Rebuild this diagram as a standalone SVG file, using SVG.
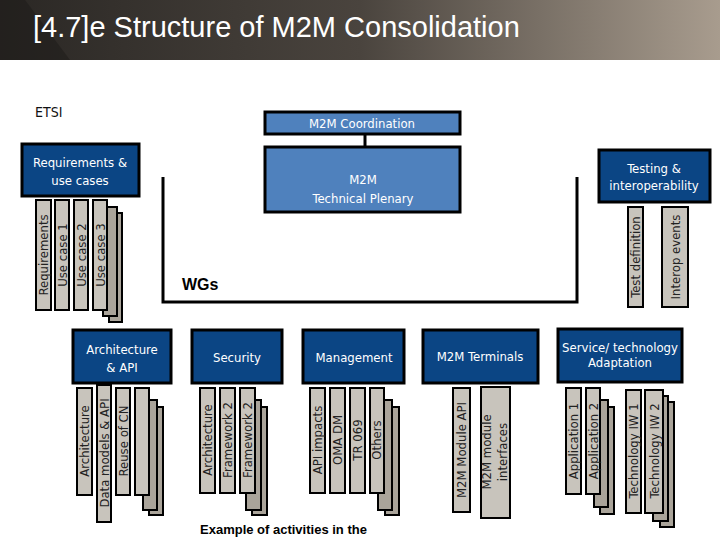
<svg xmlns="http://www.w3.org/2000/svg" width="720" height="540" viewBox="0 0 720 540">
<defs>
<linearGradient id="hdr" x1="0" y1="0" x2="1" y2="0">
<stop offset="0" stop-color="#2a2724"/><stop offset="0.5" stop-color="#4a443e"/><stop offset="1" stop-color="#a89c8e"/>
</linearGradient>
</defs>
<style>
.t{font-family:"DejaVu Sans Condensed","DejaVu Sans",sans-serif}
.dk{fill:#0b4584;stroke:#000;stroke-width:3}
.lt{fill:#4f81bd;stroke:#000;stroke-width:3}
.bar{fill:#c8c4bc;stroke:#000;stroke-width:2}
.sh{fill:#aaa49a;stroke:#000;stroke-width:2}
.w{fill:#fff;font-size:13px;text-anchor:middle}
.b{fill:#222;font-size:13px;text-anchor:middle}
.ln{stroke:#000;stroke-width:3;fill:none}
</style>
<rect width="720" height="540" fill="#fff"/>
<rect width="720" height="60" fill="url(#hdr)"/>
<polygon points="0,0 25,0 70,60 0,60" fill="#1c1a18" opacity="0.5"/>
<text x="33" y="37" font-family="Liberation Sans,Arial,sans-serif" font-size="29" fill="#fff">[4.7]e Structure of M2M Consolidation</text>
<text x="35" y="117" class="t" font-size="14" fill="#111">ETSI</text>

<g id="connectors">
<line class="ln" x1="365" y1="134" x2="365" y2="147"/>
<polyline class="ln" points="163,177 163,302 577,302 577,177"/>
</g>
<text x="182" y="290" font-family="Liberation Sans,Arial,sans-serif" font-size="16" font-weight="bold" fill="#000">WGs</text>

<g id="coord"><rect class="lt" x="265" y="112" width="195" height="22"/><text class="t w" x="362" y="128">M2M Coordination</text></g>
<g id="plenary"><rect class="lt" x="265" y="147" width="195" height="65"/><text class="t w" x="363" y="184" font-size="14">M2M</text><text class="t w" x="363" y="203" font-size="14">Technical Plenary</text></g>

<g id="req">
<rect class="dk" x="22" y="144" width="117" height="52"/>
<text class="t w" x="80" y="167">Requirements &amp;</text><text class="t w" x="80" y="185">use cases</text>
<rect class="sh" x="109" y="213" width="13" height="109"/><rect class="sh" x="103" y="207" width="14" height="109"/>
<rect class="bar" x="36" y="200" width="15" height="110"/><rect class="bar" x="55" y="200" width="14" height="110"/>
<rect class="bar" x="74" y="200" width="14" height="110"/><rect class="bar" x="93" y="200" width="14" height="110"/>
<text class="t b" transform="translate(48,255) rotate(-90)">Requirements</text>
<text class="t b" transform="translate(67,255) rotate(-90)">Use case 1</text>
<text class="t b" transform="translate(86,255) rotate(-90)">Use case 2</text>
<text class="t b" transform="translate(105,255) rotate(-90)">Use case 3</text>
</g>

<g id="testing">
<rect class="dk" x="599" y="150" width="111" height="52"/>
<text class="t w" x="654" y="173">Testing &amp;</text><text class="t w" x="654" y="190">interoperability</text>
<rect class="bar" x="628" y="207" width="15" height="100"/><rect class="bar" x="662" y="207" width="26" height="100"/>
<text class="t b" transform="translate(640,257) rotate(-90)">Test definition</text>
<text class="t b" transform="translate(680,257) rotate(-90)">Interop events</text>
</g>

<g id="arch">
<rect class="dk" x="73" y="330" width="98" height="53"/>
<text class="t w" x="122" y="354">Architecture</text><text class="t w" x="122" y="372">&amp; API</text>
<rect class="sh" x="149" y="407" width="14" height="108"/><rect class="sh" x="143" y="400" width="14" height="110"/>
<rect class="bar" x="77" y="388" width="15" height="107"/><rect class="bar" x="97" y="385" width="14" height="137"/>
<rect class="bar" x="116" y="388" width="14" height="107"/><rect class="bar" x="135" y="388" width="14" height="107"/>
<text class="t b" transform="translate(89,441) rotate(-90)">Architecture</text>
<text class="t b" transform="translate(109,453) rotate(-90)">Data models &amp; API</text>
<text class="t b" transform="translate(128,441) rotate(-90)">Reuse of CN</text>
</g>

<g id="security">
<rect class="dk" x="192" y="330" width="90" height="53"/>
<text class="t w" x="237" y="362">Security</text>
<rect class="sh" x="252" y="407" width="15" height="108"/><rect class="sh" x="246" y="400" width="15" height="110"/>
<rect class="bar" x="200" y="388" width="15" height="105"/><rect class="bar" x="220" y="388" width="15" height="105"/><rect class="bar" x="240" y="388" width="15" height="105"/>
<text class="t b" transform="translate(212,440) rotate(-90)">Architecture</text>
<text class="t b" transform="translate(232,440) rotate(-90)">Framework 2</text>
<text class="t b" transform="translate(252,440) rotate(-90)">Framework 2</text>
</g>

<g id="management">
<rect class="dk" x="303" y="330" width="101" height="53"/>
<text class="t w" x="354" y="362">Management</text>
<rect class="sh" x="385" y="407" width="14" height="108"/><rect class="sh" x="378" y="400" width="14" height="110"/>
<rect class="bar" x="310" y="388" width="15" height="105"/><rect class="bar" x="330" y="388" width="15" height="105"/>
<rect class="bar" x="350" y="388" width="15" height="105"/><rect class="bar" x="370" y="388" width="14" height="105"/>
<text class="t b" transform="translate(322,440) rotate(-90)">API impacts</text>
<text class="t b" transform="translate(342,440) rotate(-90)">OMA DM</text>
<text class="t b" transform="translate(362,440) rotate(-90)">TR 069</text>
<text class="t b" transform="translate(381,440) rotate(-90)">Others</text>
</g>

<g id="terminals">
<rect class="dk" x="423" y="330" width="115" height="53"/>
<text class="t w" x="480" y="361">M2M Terminals</text>
<rect class="bar" x="453" y="388" width="17" height="124"/><rect class="bar" x="481" y="387" width="29" height="131"/>
<text class="t b" transform="translate(466,450) rotate(-90)">M2M Module API</text>
<text class="t b" transform="translate(491,452) rotate(-90)">M2M module</text>
<text class="t b" transform="translate(507,452) rotate(-90)">interfaces</text>
</g>

<g id="service">
<rect class="dk" x="558" y="329" width="124" height="53"/>
<text class="t w" x="620" y="352" font-size="12">Service/ technology</text><text class="t w" x="620" y="367" font-size="12">Adaptation</text>
<rect class="sh" x="600" y="407" width="14" height="107"/><rect class="sh" x="594" y="400" width="14" height="107"/>
<rect class="sh" x="660" y="402" width="14" height="125"/><rect class="sh" x="653" y="396" width="15" height="125"/>
<rect class="bar" x="566" y="388" width="15" height="106"/><rect class="bar" x="586" y="388" width="14" height="106"/>
<rect class="bar" x="626" y="390" width="15" height="123"/><rect class="bar" x="645" y="390" width="18" height="123"/>
<text class="t b" transform="translate(578,441) rotate(-90)">Application 1</text>
<text class="t b" transform="translate(598,441) rotate(-90)">Application 2</text>
<text class="t b" transform="translate(638,451) rotate(-90)">Technology IW 1</text>
<text class="t b" transform="translate(659,451) rotate(-90)">Technology IW 2</text>
</g>

<text x="200" y="534" font-family="Liberation Sans,Arial,sans-serif" font-size="13" font-weight="bold" fill="#000">Example of activities in the</text>
</svg>
